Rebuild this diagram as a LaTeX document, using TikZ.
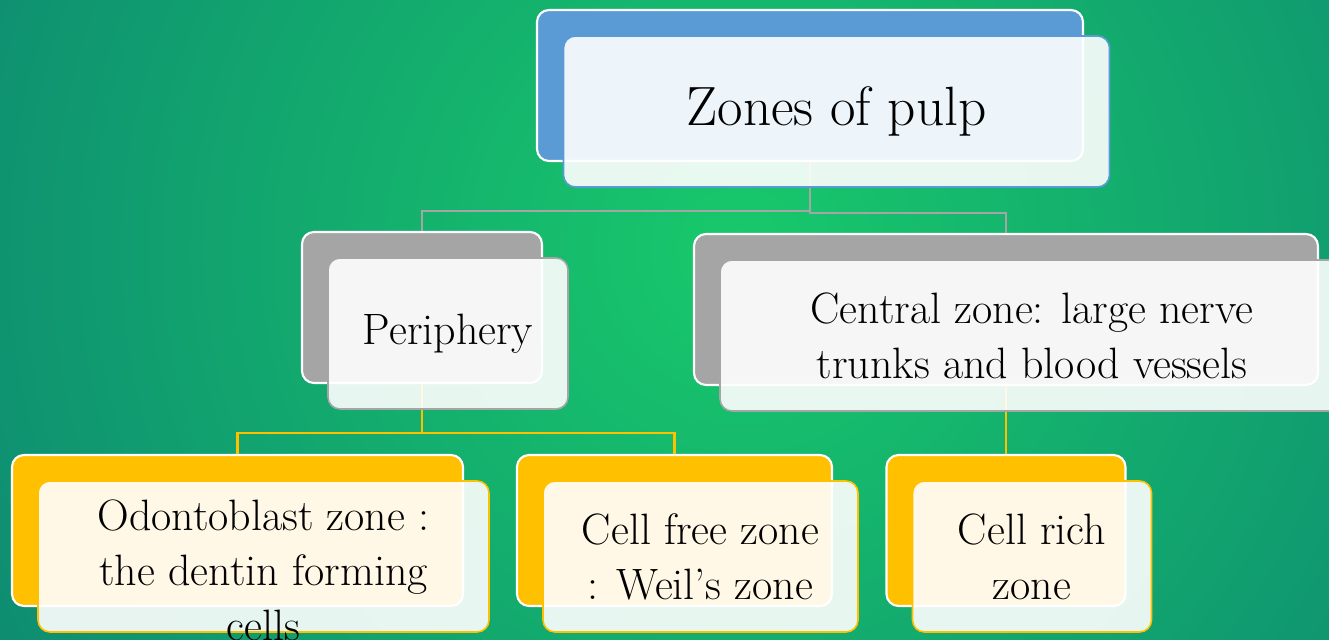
\documentclass[tikz,border=0pt]{standalone}
\usepackage{fontspec}
\usetikzlibrary{positioning}
\definecolor{bgin}{HTML}{18C96B}
\definecolor{bgout}{HTML}{0B7A73}
\definecolor{topblue}{HTML}{5B9BD5}
\definecolor{midgray}{HTML}{A5A5A5}
\definecolor{gold}{HTML}{FFC000}

\begin{document}
\begin{tikzpicture}[node distance =0.52cm and 0.52cm ,on grid ,
back/.style ={rectangle ,rounded corners =0.24cm ,fill =#1 ,
draw =white ,line width =1.2pt ,minimum height =3.02cm},
front/.style ={rectangle ,rounded corners =0.24cm ,fill =white ,
fill opacity =0.9 ,text opacity =1 ,draw =#1 ,line width =0.9pt ,
minimum height =3.02cm ,align =center ,
font =\fontsize{25}{31.3}\selectfont},
txt/.style ={align =center ,font =\fontsize{25}{31.3}\selectfont},
link/.style ={draw =#1 ,line width =1.4pt}]
\useasboundingbox (0,0) rectangle (26.58,-12.8);
\clip (0,0) rectangle (26.58,-12.8);
\shade[inner color=bgin, outer color=bgout] (14.8,-5) circle (22cm);
% back boxes
\node[back=topblue ,minimum width =10.92cm] (Z) at (16.2,-1.71) {};
\node[back=midgray ,minimum width =4.8cm] (P) [below left = 4.44cm and 7.76cm of Z] {};
\node[back=midgray ,minimum width =12.48cm] (C) [below right = 4.48cm and 3.92cm of Z] {};
\node[back=gold ,minimum width =9.02cm] (O) [below left = 4.46cm and 3.69cm of P] {};
\node[back=gold ,minimum width =6.3cm] (F) [below right = 4.46cm and 5.05cm of P] {};
\node[back=gold ,minimum width =4.78cm] (R) [below = 4.42cm of C] {};
% connectors
\draw[link=midgray] (Z.south) -- ++(0,-0.98) -| (P.north);
\draw[link=midgray] (Z.south) -- ++(0,-1.02) -| (C.north);
\draw[link=gold] (P.south) -- ++(0,-0.98) -| (O.north);
\draw[link=gold] (P.south) -- ++(0,-0.98) -| (F.north);
\draw[link=gold] (C.south) -- (R.north);
% front boxes
\node[front=topblue ,minimum width =10.92cm ,font =\fontsize{31.5}{38}\selectfont]
  (Zf) [below right = 0.52cm and 0.53cm of Z] {Zones of pulp};
\node[front=midgray ,minimum width =4.8cm] (Pf) [below right = of P] {Periphery};
\node[front=midgray ,minimum width =12.48cm] (Cf) [below right = of C]
  {Central zone: large nerve\\trunks and blood vessels};
\node[front=gold ,minimum width =9.02cm] (Of) [below right = of O] {};
\node[txt] (Ot) [below = 0.27cm of Of] {Odontoblast zone :\\the dentin forming\\cells};
\node[front=gold ,minimum width =6.3cm] (Ff) [below right = of F] {Cell free zone\\: Weil’s zone};
\node[front=gold ,minimum width =4.78cm] (Rf) [below right = of R] {Cell rich\\zone};
\end{tikzpicture}
\end{document}
